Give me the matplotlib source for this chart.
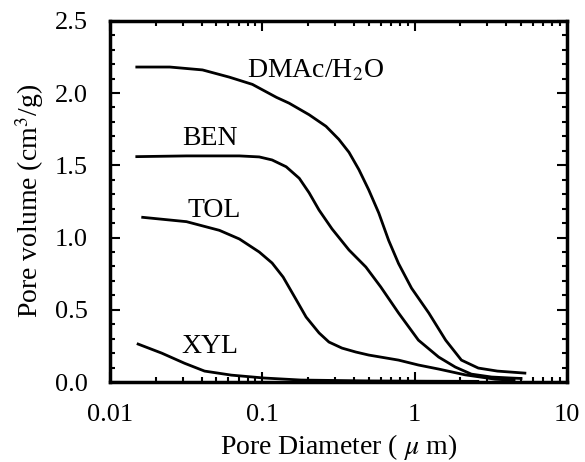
import matplotlib
matplotlib.use("Agg")
import matplotlib.pyplot as plt
from matplotlib.ticker import FixedLocator, FixedFormatter, MultipleLocator, LogLocator, NullFormatter

plt.rcParams['font.family'] = ['Liberation Serif', 'DejaVu Serif']
plt.rcParams['mathtext.fontset'] = 'stix'

# pore volume curves (diameter in um, volume in cm3/g)
dmac_d = [0.015, 0.0247, 0.0405, 0.0608, 0.0861, 0.124, 0.150, 0.203, 0.262, 0.318,
          0.371, 0.431, 0.500, 0.582, 0.676, 0.785, 0.955, 1.24, 1.60, 2.03,
          2.62, 3.5, 5.3]
dmac_v = [2.18, 2.18, 2.16, 2.11, 2.06, 1.97, 1.93, 1.85, 1.77, 1.68,
          1.59, 1.47, 1.33, 1.17, 0.98, 0.82, 0.65, 0.478, 0.29, 0.152,
          0.097, 0.076, 0.062]

ben_d = [0.015, 0.0318, 0.0708, 0.0955, 0.116, 0.1435, 0.175, 0.203, 0.236, 0.287,
         0.371, 0.479, 0.60, 0.785, 1.06, 1.44, 1.85, 2.36, 3.2, 4.3, 5.0]
ben_v = [1.56, 1.565, 1.565, 1.558, 1.537, 1.49, 1.41, 1.31, 1.19, 1.06,
         0.914, 0.796, 0.658, 0.478, 0.29, 0.173, 0.104, 0.055, 0.035, 0.028, 0.025]

tol_d = [0.0164, 0.0318, 0.0523, 0.0708, 0.0955, 0.116, 0.137, 0.167, 0.194, 0.236,
         0.274, 0.334, 0.411, 0.500, 0.785, 1.06, 1.44, 2.15, 3.38, 4.5]
tol_v = [1.14, 1.11, 1.05, 0.99, 0.90, 0.824, 0.727, 0.57, 0.45, 0.34,
         0.277, 0.235, 0.208, 0.187, 0.152, 0.118, 0.09, 0.05, 0.02, 0.012]

xyl_d = [0.0153, 0.0219, 0.0309, 0.0418, 0.0627, 0.103, 0.18, 0.5, 1.2, 2.6]
xyl_v = [0.263, 0.20, 0.13, 0.076, 0.048, 0.028, 0.014, 0.008, 0.006, 0.005]

labels = ['DMAc/H$_2$O', 'BEN', 'TOL', 'XYL']
label_x = [0.0798, 0.0296, 0.0324, 0.0296]
label_y = [2.11, 1.64, 1.143, 0.20]

x_ticks = [0.01, 0.1, 1, 10]
x_tick_labels = ['0.01', '0.1', '1', '10']
y_ticks = [0.0, 0.5, 1.0, 1.5, 2.0, 2.5]

fig = plt.figure(figsize=(5.85, 4.62), dpi=100)
ax = fig.add_axes([0.188, 0.173, 0.781, 0.782])

for d, v in [(dmac_d, dmac_v), (ben_d, ben_v), (tol_d, tol_v), (xyl_d, xyl_v)]:
    ax.plot(d, v, color='black', lw=2.0, solid_joinstyle='round')

for name, lx, ly in zip(labels, label_x, label_y):
    ax.text(lx, ly, name, fontsize=20, va='baseline', ha='left')

ax.set_xscale('log')
ax.set_xlim(0.01, 10)
ax.set_ylim(0, 2.5)
ax.xaxis.set_major_locator(FixedLocator(x_ticks))
ax.xaxis.set_major_formatter(FixedFormatter(x_tick_labels))
ax.xaxis.set_minor_locator(LogLocator(base=10, subs=range(2, 10)))
ax.xaxis.set_minor_formatter(NullFormatter())
ax.set_yticks(y_ticks)
ax.set_yticklabels(['%.1f' % t for t in y_ticks])
ax.yaxis.set_minor_locator(MultipleLocator(0.1))

ax.tick_params(which='both', direction='in', top=True, right=True, labelsize=19, width=1.5)
ax.tick_params(which='major', length=7, pad=16)
ax.tick_params(which='minor', length=3.6)
for s in ax.spines.values():
    s.set_linewidth(2.5)

ax.set_xlabel('Pore Diameter ( $\\mu$ m)', fontsize=20, labelpad=4)
ax.set_ylabel('Pore volume (cm$^3$/g)', fontsize=20, labelpad=6)

fig.savefig('out.png', dpi=100)
